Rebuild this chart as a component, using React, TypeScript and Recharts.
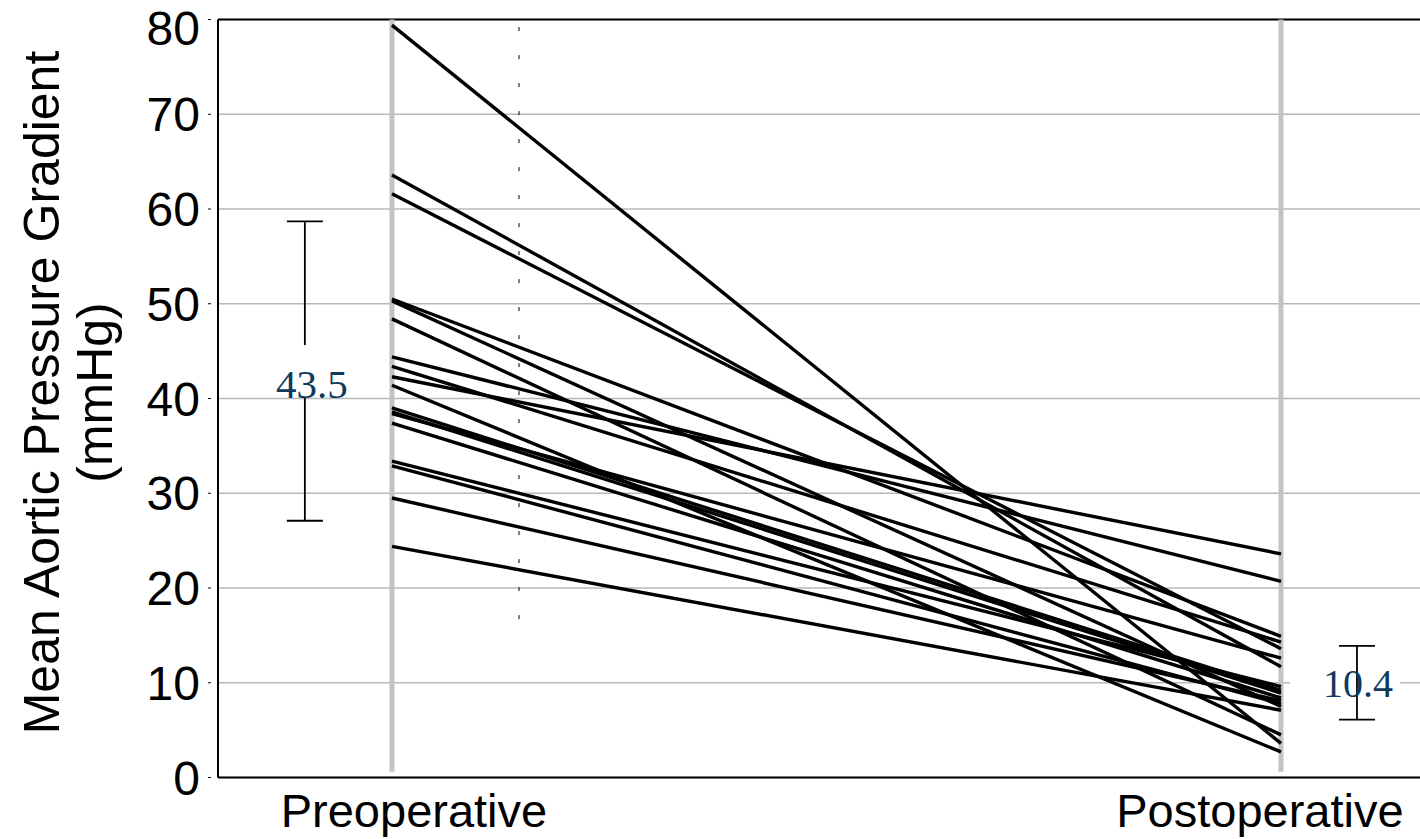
import React from 'react';
import {
  ComposedChart,
  Line,
  Scatter,
  ErrorBar,
  XAxis,
  YAxis,
  CartesianGrid,
  ReferenceLine,
} from 'recharts';

const stages = ['Preoperative', 'Postoperative'];
const yTicks = [0, 10, 20, 30, 40, 50, 60, 70, 80];

// one entry per patient, same order in both arrays
const preValues = [79.4, 63.6, 61.6, 50.5, 50.3, 48.4, 44.4, 43.4, 42.3, 41.4, 39.0, 38.6, 38.4, 37.4, 33.4, 32.9, 29.5, 24.4];
const postValues = [3.6, 11.7, 13.6, 14.9, 7.5, 4.5, 20.7, 14.3, 23.6, 2.7, 9.2, 8.9, 12.6, 8.4, 9.6, 7.8, 8.1, 7.1];

const summaryMeans = [42.9, 10.0];
const summarySD = [15.8, 3.9];
const summaryLabels = ['43.5', '10.4'];

// layout (x in axis units: 0 = pre, 1 = post)
const X_DOMAIN = [-0.1957, 1.1564];
const SUMMARY_X = [-0.098, 1.0855];
const DASH_X = 0.1429;

const patients = preValues.map((pre, i) => [
  { x: 0, y: pre },
  { x: 1, y: postValues[i] },
]);

const summary = summaryMeans.map((m, i) => ({
  x: SUMMARY_X[i],
  y: m,
  err: summarySD[i],
  label: summaryLabels[i],
  side: i,
}));

const sans = 'Liberation Sans, Arial, sans-serif';
const serif = 'Liberation Serif, Times New Roman, serif';

function StageTick(props: any) {
  const { x, y, payload } = props;
  const shift = payload.value === 0 ? 22 : -21;
  return (
    <text x={x + shift} y={y} dy="0.71em" textAnchor="middle" fontFamily={sans} fontSize={47} fill="#000">
      {stages[payload.value]}
    </text>
  );
}

function YLabel(props: any) {
  const { viewBox } = props;
  const cy = viewBox.y + viewBox.height / 2 - 6;
  return (
    <g fontFamily={sans} fontSize={50} fill="#000">
      <text transform={`translate(59,${cy}) rotate(-90)`} textAnchor="middle">
        Mean Aortic Pressure Gradient
      </text>
      <text transform={`translate(112,${cy}) rotate(-90)`} textAnchor="middle">
        (mmHg)
      </text>
    </g>
  );
}

function SummaryShape(props: any) {
  const { cx, cy, payload } = props;
  if (payload.side === 0) {
    return (
      <g>
        <rect x={cx - 4} y={cy - 26} width={8} height={52} fill="#fff" />
        <text x={cx + 7} y={cy + 27} textAnchor="middle" fontFamily={serif} fontSize={41} fill="#0f3a5c">
          {payload.label}
        </text>
      </g>
    );
  }
  return (
    <g>
      <rect x={cx - 67} y={cy - 3} width={110} height={6} fill="#fff" />
      <line x1={cx} x2={cx} y1={cy - 4} y2={cy + 4} stroke="#000" strokeWidth={1.8} />
      <text x={cx + 1} y={cy + 14} textAnchor="middle" fontFamily={serif} fontSize={40} fill="#0f3a5c">
        {payload.label}
      </text>
    </g>
  );
}

export default function App() {
  return (
    <div style={{ width: 1420, height: 839 }}>
      <style>{'body{margin:0}'}</style>
      <ComposedChart width={1420} height={839} margin={{ top: 19.5, right: 0, bottom: 1.5, left: 0 }}>
        <CartesianGrid vertical={false} stroke="#b8b8b8" strokeWidth={1.5} />
        <XAxis
          type="number"
          dataKey="x"
          domain={X_DOMAIN}
          ticks={[0, 1]}
          allowDataOverflow
          tick={<StageTick />}
          tickLine={false}
          tickSize={0}
          tickMargin={16}
          height={60}
          axisLine={{ stroke: '#000', strokeWidth: 2 }}
        />
        <YAxis
          type="number"
          domain={[0, 80]}
          ticks={yTicks}
          width={218}
          tickSize={10}
          tickMargin={8}
          tickLine={{ stroke: '#000', strokeDasharray: '3 20' }}
          axisLine={{ stroke: '#000', strokeWidth: 2 }}
          tick={{ fontFamily: sans, fontSize: 48, fill: '#000' }}
          label={{ content: YLabel }}
        />
        <ReferenceLine y={80} stroke="#000" strokeWidth={2} />
        <ReferenceLine segment={[{ x: 0, y: 80 }, { x: 0, y: 0.6 }]} stroke="#c3c3c3" strokeWidth={5} />
        <ReferenceLine segment={[{ x: 1, y: 80 }, { x: 1, y: 0.6 }]} stroke="#c3c3c3" strokeWidth={5} />
        <ReferenceLine
          segment={[{ x: DASH_X, y: 79.2 }, { x: DASH_X, y: 15.6 }]}
          stroke="#000"
          strokeWidth={1}
          strokeDasharray="4 24"
        />
        {patients.map((d, i) => (
          <Line
            key={i}
            data={d}
            dataKey="y"
            type="linear"
            stroke="#000"
            strokeWidth={3.4}
            dot={false}
            activeDot={false}
            isAnimationActive={false}
          />
        ))}
        <Scatter data={summary} dataKey="y" shape={<SummaryShape />} isAnimationActive={false}>
          <ErrorBar dataKey="err" direction="y" width={18} stroke="#000" strokeWidth={1.8} />
        </Scatter>
      </ComposedChart>
    </div>
  );
}
